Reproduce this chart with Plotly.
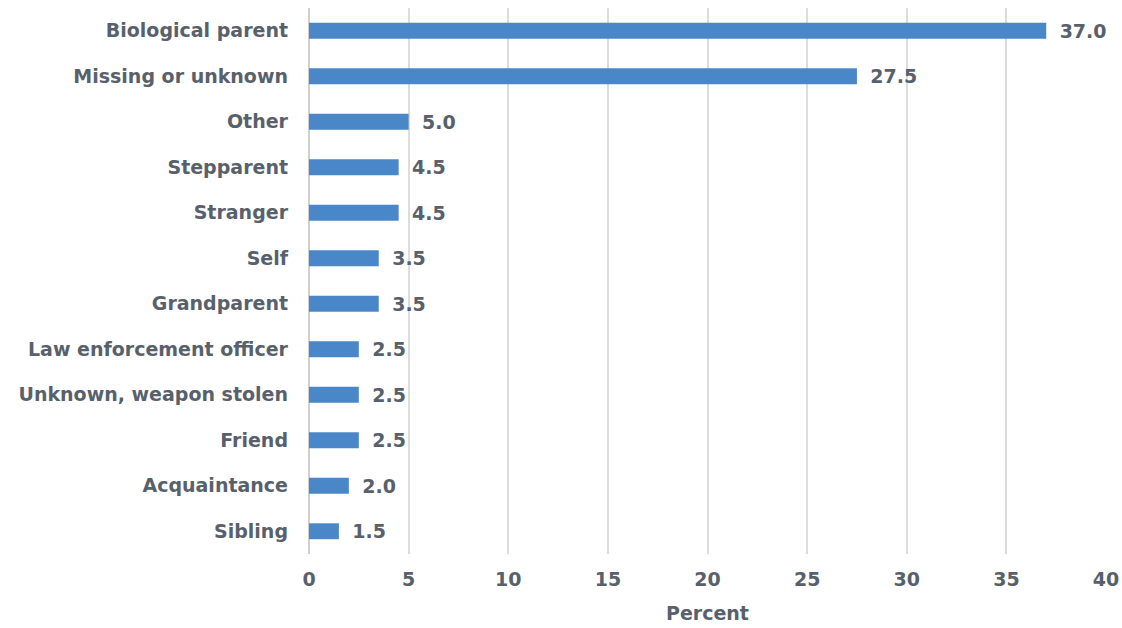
import plotly.graph_objects as go

categories = ["Biological parent", "Missing or unknown", "Other", "Stepparent", "Stranger",
              "Self", "Grandparent", "Law enforcement officer", "Unknown, weapon stolen",
              "Friend", "Acquaintance", "Sibling"]
values = [37.0, 27.5, 5.0, 4.5, 4.5, 3.5, 3.5, 2.5, 2.5, 2.5, 2.0, 1.5]
x_ticks = [0, 5, 10, 15, 20, 25, 30, 35, 40]

txt = "#58616b"
font = dict(family="DejaVu Sans", size=19, color=txt, weight="bold")

fig = go.Figure(go.Bar(
    y=categories, x=values, orientation="h",
    marker=dict(color="#4a87c8", line=dict(width=0)),
    width=0.35,
    text=["\u00a0\u2009" + f"{v:.1f}" for v in values], textposition="outside",
    textfont=font, cliponaxis=False, constraintext="none",
))
fig.update_layout(
    width=1122, height=628,
    margin=dict(l=309, r=16, t=8, b=74),
    plot_bgcolor="white", paper_bgcolor="white",
    showlegend=False, font=font,
    xaxis=dict(range=[0, 40], tickvals=x_ticks, showgrid=True, gridcolor="#dcdcdc",
               gridwidth=1.5, zeroline=True, zerolinecolor="#d0d0d0", zerolinewidth=1.5,
               title=dict(text="Percent", font=font, standoff=17), ticks="", tickfont=font,
               ticklabelstandoff=12, automargin=False),
    yaxis=dict(autorange="reversed", showgrid=False, ticks="", ticklabelstandoff=20,
               tickfont=font, automargin=False),
    bargap=0.65,
)
fig.write_html("out.html")
